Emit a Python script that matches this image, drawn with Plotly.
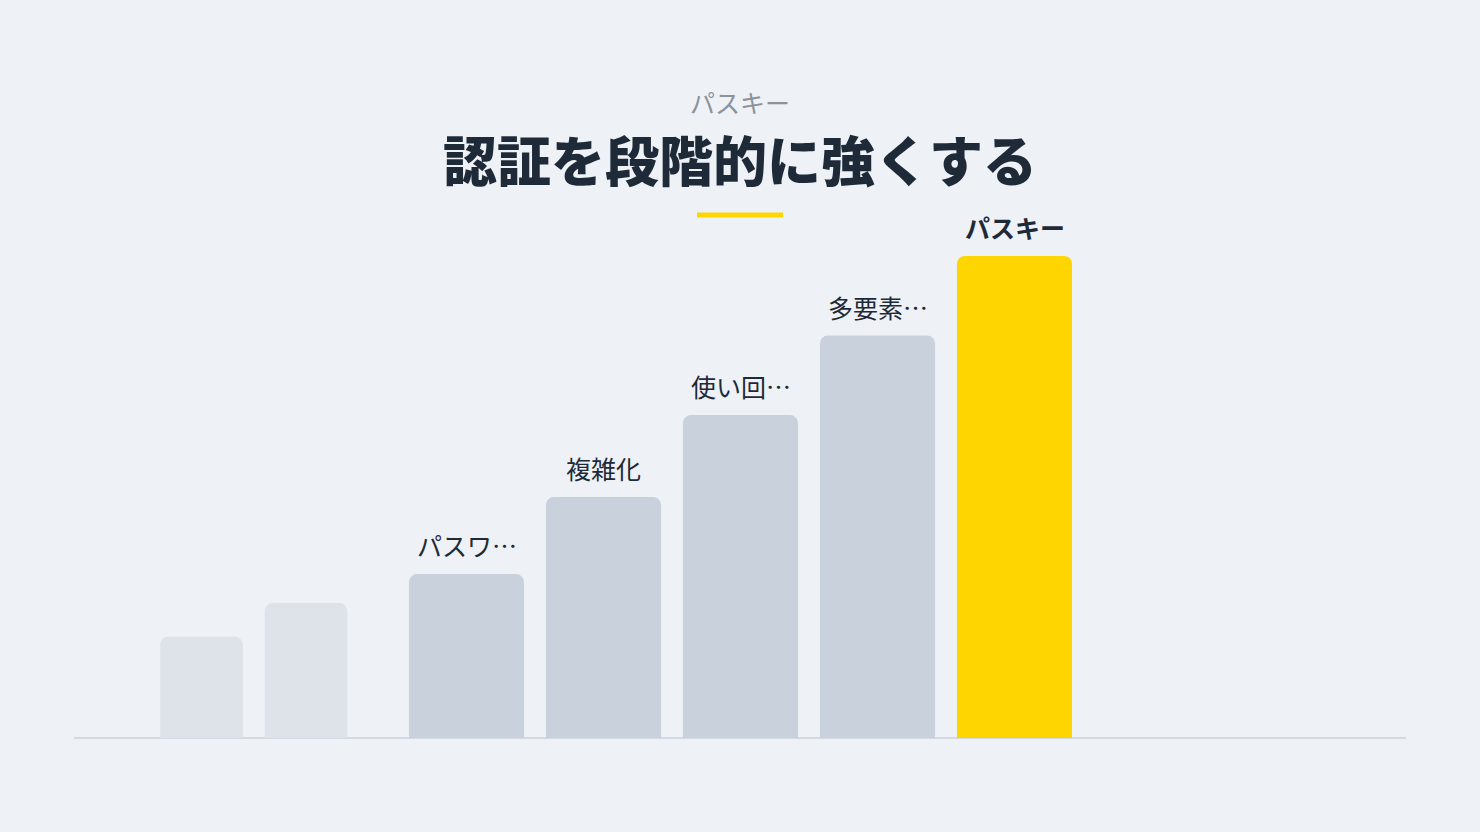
"""
Step chart: 認証を段階的に強くする
"""

import plotly.graph_objects as go

# faint lead-in bars (no labels)
lead_cats = ['a', 'b']
lead_values = [21, 28]

# main steps
step_labels = ['パスワ…', '複雑化', '使い回…', '多要素…', 'パスキー']
step_values = [34, 50, 67, 83.5, 100]

subtitle = 'パスキー'
title = '認証を段階的に強くする'

BG = '#EEF2F6'
DARK = '#1E2A38'
GRAY_BAR = '#C9D1DC'
FAINT_BAR = '#DEE3E9'
YELLOW = '#FFD500'
FONT = 'Noto Sans CJK JP'

W, H = 1480, 832
M_L, M_R, M_T, M_B = 74, 74, 256, 94
plot_w = W - M_L - M_R
plot_h = H - M_T - M_B


def px_x(x_px):
    return (x_px - M_L) / plot_w


def px_y(y_px):
    return (H - M_B - y_px) / plot_h


step_colors = [GRAY_BAR] * (len(step_labels) - 1) + [YELLOW]

fig = go.Figure()

fig.add_trace(go.Bar(
    x=lead_cats,
    y=lead_values,
    width=0.79,
    marker=dict(color=FAINT_BAR, line=dict(width=0)),
    xaxis='x', yaxis='y',
    hoverinfo='skip',
))

fig.add_trace(go.Bar(
    x=step_labels,
    y=step_values,
    width=0.84,
    marker=dict(color=step_colors, line=dict(width=0)),
    xaxis='x2', yaxis='y',
    hoverinfo='skip',
))

annotations = [
    dict(text=subtitle, x=0.5, y=px_y(102), xref='paper', yref='paper',
         showarrow=False, font=dict(size=25, color='#8C939B', family=FONT),
         xanchor='center', yanchor='middle'),
    dict(text=title, x=0.5, y=px_y(158), xref='paper', yref='paper',
         showarrow=False,
         font=dict(size=54, color=DARK, family=FONT, weight=900),
         xanchor='center', yanchor='middle'),
]

# labels above each step bar
for i, (lab, val) in enumerate(zip(step_labels, step_values)):
    last = i == len(step_labels) - 1
    annotations.append(dict(
        text=lab, x=lab, y=val, xref='x2', yref='y',
        showarrow=False, yanchor='middle', yshift=29,
        font=dict(size=25, color=DARK, family=FONT,
                  weight='bold' if last else 'normal'),
    ))

fig.update_layout(
    width=W,
    height=H,
    margin=dict(l=M_L, r=M_R, t=M_T, b=M_B),
    paper_bgcolor=BG,
    plot_bgcolor=BG,
    showlegend=False,
    barcornerradius=8,
    font=dict(family=FONT, color=DARK),
    xaxis=dict(domain=[px_x(149.25), px_x(358.25)], visible=False,
               range=[-0.5, 1.5]),
    xaxis2=dict(domain=[px_x(398), px_x(1083)], visible=False,
                range=[-0.5, 4.5], anchor='y'),
    yaxis=dict(range=[0, 100], visible=False),
    annotations=annotations,
    shapes=[
        # accent underline
        dict(type='line', xref='paper', yref='paper',
             x0=px_x(697), x1=px_x(783), y0=px_y(215), y1=px_y(215),
             line=dict(color=YELLOW, width=5)),
        # baseline
        dict(type='line', xref='paper', yref='paper',
             x0=0, x1=1, y0=0, y1=0,
             line=dict(color='#D3D9E1', width=2), layer='below'),
    ],
)

fig.write_html('out.html', config={'displayModeBar': False},
               post_script="document.body.style.margin='0';")
